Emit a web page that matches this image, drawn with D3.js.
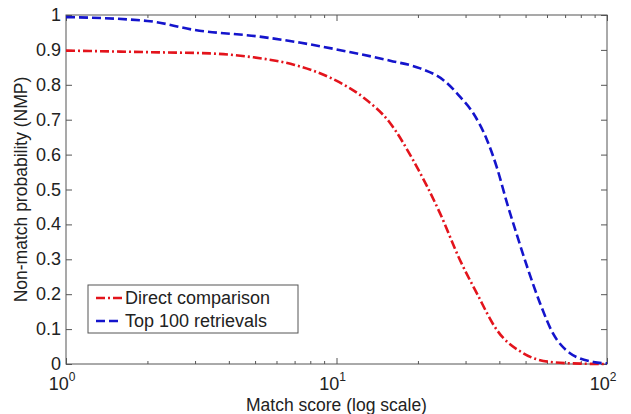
<!DOCTYPE html>
<html lang="en">
<head>
<meta charset="UTF-8">
<title>NMP</title>
<style>
  body { margin: 0; background: #fff; }
  text { font-family: "Liberation Sans", Arial, sans-serif; fill: #222; }
</style>
</head>
<body>
<script src="https://cdn.jsdelivr.net/npm/d3@7"></script>
<script>
// data
var directX = [1, 2.2, 3.4, 4.9, 7, 9.5, 12.5, 15.8, 19.2, 24.1, 28.6, 33, 39.2, 49, 61.5, 80, 100]
var directY = [0.898, 0.893, 0.89, 0.879, 0.857, 0.82, 0.765, 0.69, 0.584, 0.433, 0.298, 0.203, 0.097, 0.031, 0.006, 0.001, 0]
var topX = [1, 2, 3, 5.2, 7.3, 11, 15.8, 20.4, 24.8, 28.6, 32, 36, 39.2, 42.7, 46, 50.6, 56.5, 63, 73, 89, 100]
var topY = [0.994, 0.983, 0.957, 0.938, 0.921, 0.895, 0.869, 0.847, 0.814, 0.766, 0.719, 0.642, 0.562, 0.461, 0.38, 0.28, 0.175, 0.089, 0.031, 0.006, 0.002]
var seriesNames = ['Direct comparison', 'Top 100 retrievals']
var yTicks = [0, 0.1, 0.2, 0.3, 0.4, 0.5, 0.6, 0.7, 0.8, 0.9, 1]
var xMajor = [1, 10, 100]
var xMinor = [2, 3, 4, 5, 6, 7, 8, 9, 20, 30, 40, 50, 60, 70, 80, 90]

var W = 631, H = 414
var m = {left: 66, right: 24, top: 15, bottom: 50}
var svg = d3.select('body').append('svg').attr('width', W).attr('height', H)

var x = d3.scaleLog().domain([1, 100]).range([m.left, W - m.right])
var y = d3.scaleLinear().domain([0, 1]).range([H - m.bottom, m.top])

var axisColor = '#555'
function style(g) {
    g.select('.domain').remove()
    g.selectAll('line').attr('stroke', axisColor)
}

// ticks inside on all four sides
svg.append('g').attr('transform', `translate(0,${y(0)})`)
    .call(d3.axisBottom(x).tickValues(xMajor).tickSize(-6).tickFormat('')).call(style)
svg.append('g').attr('transform', `translate(0,${y(0)})`)
    .call(d3.axisBottom(x).tickValues(xMinor).tickSize(-3).tickFormat('')).call(style)
svg.append('g').attr('transform', `translate(0,${y(1)})`)
    .call(d3.axisTop(x).tickValues(xMajor).tickSize(-6).tickFormat('')).call(style)
svg.append('g').attr('transform', `translate(0,${y(1)})`)
    .call(d3.axisTop(x).tickValues(xMinor).tickSize(-3).tickFormat('')).call(style)
svg.append('g').attr('transform', `translate(${x(1)},0)`)
    .call(d3.axisLeft(y).tickValues(yTicks).tickSize(-6).tickFormat('')).call(style)
svg.append('g').attr('transform', `translate(${x(100)},0)`)
    .call(d3.axisRight(y).tickValues(yTicks).tickSize(-6).tickFormat('')).call(style)

svg.append('rect')
    .attr('x', x(1)).attr('y', y(1))
    .attr('width', x(100) - x(1)).attr('height', y(0) - y(1))
    .attr('fill', 'none').attr('stroke', axisColor).attr('stroke-width', 1)

// tick labels
svg.append('g').selectAll('text').data(yTicks).enter().append('text')
    .attr('x', x(1) - 5).attr('y', d => y(d) + 6)
    .attr('text-anchor', 'end').attr('font-size', 18)
    .text(d => d3.format('~g')(d))

var xl = svg.append('g').selectAll('text').data(xMajor).enter().append('text')
    .attr('x', d => x(d) - 4).attr('y', y(0) + 26)
    .attr('text-anchor', 'middle').attr('font-size', 18)
xl.append('tspan').text('10')
xl.append('tspan').attr('dy', -9).attr('font-size', 12).text(d => Math.round(Math.log10(d)))

svg.append('text').attr('x', (x(1) + x(100)) / 2).attr('y', H - 3)
    .attr('text-anchor', 'middle').attr('font-size', 17.5).text('Match score (log scale)')
svg.append('text').attr('transform', `translate(27,${(y(0) + y(1)) / 2}) rotate(-90)`)
    .attr('text-anchor', 'middle').attr('font-size', 17.5).text('Non-match probability (NMP)')

// curves
var colors = ['#e3141c', '#1414cc']
var dashes = ['9,3,2,3', '9,4']
var series = [d3.zip(directX, directY), d3.zip(topX, topY)]
var line = d3.line().x(d => x(d[0])).y(d => y(d[1])).curve(d3.curveMonotoneX)

svg.append('g').selectAll('path').data(series).enter().append('path')
    .attr('d', line)
    .attr('fill', 'none')
    .attr('stroke', (d, i) => colors[i])
    .attr('stroke-width', 2.6)
    .attr('stroke-dasharray', (d, i) => dashes[i])

// legend
var lg = svg.append('g').attr('transform', 'translate(88,285)')
lg.append('rect').attr('width', 210).attr('height', 48)
    .attr('fill', '#fff').attr('stroke', axisColor)
var row = lg.selectAll('g').data(seriesNames).enter().append('g')
    .attr('transform', (d, i) => `translate(0,${13 + i * 23})`)
row.append('line').attr('x1', 8).attr('x2', 34)
    .attr('stroke', (d, i) => colors[i]).attr('stroke-width', 2.6)
    .attr('stroke-dasharray', (d, i) => dashes[i])
row.append('text').attr('x', 37).attr('y', 6).attr('font-size', 18).text(d => d)
</script>
</body>
</html>
